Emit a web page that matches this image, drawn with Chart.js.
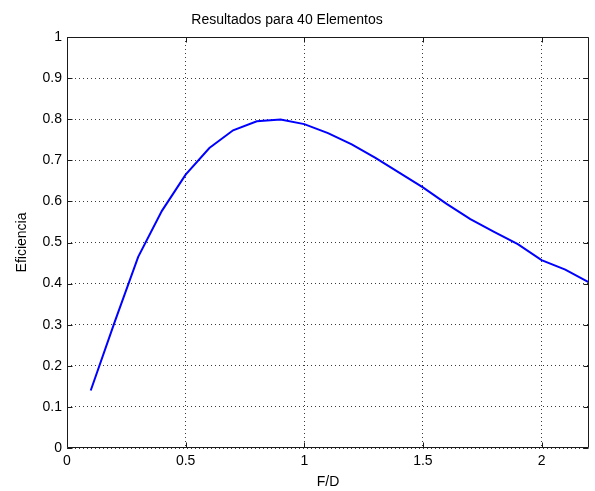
<!DOCTYPE html>
<html>
<head>
<meta charset="utf-8">
<script src="https://cdn.jsdelivr.net/npm/chart.js@4/dist/chart.umd.min.js"></script>
<style>
  html, body { margin: 0; padding: 0; background: #ffffff; }
  #wrap { width: 595px; height: 491px; }
</style>
</head>
<body>
<div id="wrap"><canvas id="chart" width="595" height="491"></canvas></div>
<script>
// F/D ratio samples and the resulting aperture efficiency
const fdRatio    = [0.1, 0.2, 0.3, 0.4, 0.5, 0.6, 0.7, 0.8, 0.9, 1.0, 1.1,
                    1.2, 1.3, 1.4, 1.5, 1.6, 1.7, 1.8, 1.9, 2.0, 2.1, 2.2];
const efficiency = [0.140, 0.305, 0.465, 0.577, 0.665, 0.730, 0.773, 0.795, 0.799, 0.788, 0.766,
                    0.739, 0.706, 0.670, 0.634, 0.594, 0.557, 0.526, 0.496, 0.457, 0.434, 0.403];

// Axis tick values
const xTicks = [0, 0.5, 1, 1.5, 2];
const yTicks = [0, 0.1, 0.2, 0.3, 0.4, 0.5, 0.6, 0.7, 0.8, 0.9, 1];

const chartTitle = 'Resultados para 40 Elementos';

const FONT = "'Liberation Sans', Arial, Helvetica, sans-serif";
const FONT_SIZE = 14;
const TICK_LEN = 5;

// Draws the boxed frame with inward tick marks on all four sides, plus the title
const framePlugin = {
  id: 'frame',
  afterDatasetsDraw(chart) {
    const { ctx, chartArea: a, scales } = chart;
    const L = Math.round(a.left) + 0.5, R = Math.round(a.right) - 0.5;
    const T = Math.round(a.top) + 0.5, B = Math.round(a.bottom) - 0.5;
    ctx.save();
    ctx.strokeStyle = '#1a1a1a';
    ctx.lineWidth = 1;
    ctx.beginPath();
    ctx.rect(L, T, R - L, B - T);
    xTicks.forEach(v => {
      const x = Math.round(scales.x.getPixelForValue(v)) + 0.5;
      ctx.moveTo(x, B); ctx.lineTo(x, B - TICK_LEN);
      ctx.moveTo(x, T); ctx.lineTo(x, T + TICK_LEN);
    });
    yTicks.forEach(v => {
      const y = Math.round(scales.y.getPixelForValue(v)) + 0.5;
      ctx.moveTo(L, y); ctx.lineTo(L + TICK_LEN, y);
      ctx.moveTo(R, y); ctx.lineTo(R - TICK_LEN, y);
    });
    ctx.stroke();

    // title above the axes box
    ctx.fillStyle = '#000000';
    ctx.font = FONT_SIZE + 'px ' + FONT;
    ctx.textAlign = 'center';
    ctx.textBaseline = 'alphabetic';
    ctx.fillText(chartTitle, 287, 24);
    ctx.restore();
  }
};

const fmt = v => String(Math.round(v * 10) / 10);

new Chart(document.getElementById('chart'), {
  type: 'scatter',
  data: {
    datasets: [{
      data: fdRatio.map((x, i) => ({ x, y: efficiency[i] })),
      showLine: true,
      borderColor: '#0000ff',
      backgroundColor: '#0000ff',
      borderWidth: 2,
      pointRadius: 0,
      tension: 0
    }]
  },
  options: {
    responsive: false,
    devicePixelRatio: 1,
    animation: false,
    layout: { padding: { left: 0, right: 6, top: 37, bottom: 0 } },
    plugins: {
      legend: { display: false },
      tooltip: { enabled: false },
      title: { display: false }
    },
    scales: {
      x: {
        type: 'linear',
        min: 0,
        max: 2.2,
        afterBuildTicks: s => { s.ticks = xTicks.map(value => ({ value })); },
        afterFit: s => { s.height = 43; },
        ticks: {
          color: '#000000',
          font: { family: FONT, size: FONT_SIZE },
          padding: 5,
          maxRotation: 0,
          callback: v => fmt(v)
        },
        grid: { color: '#3a3a3a', drawTicks: false, lineWidth: 1 },
        border: { display: false, dash: [1, 3] },
        title: {
          display: true,
          text: 'F/D',
          color: '#000000',
          font: { family: FONT, size: FONT_SIZE },
          padding: { top: 0, bottom: 0 }
        }
      },
      y: {
        type: 'linear',
        min: 0,
        max: 1,
        afterBuildTicks: s => { s.ticks = yTicks.map(value => ({ value })); },
        afterFit: s => { s.width = 67; },
        ticks: {
          color: '#000000',
          font: { family: FONT, size: FONT_SIZE },
          padding: 5,
          callback: v => fmt(v)
        },
        grid: { color: '#3a3a3a', drawTicks: false, lineWidth: 1 },
        border: { display: false, dash: [1, 3] },
        title: {
          display: true,
          text: 'Eficiencia',
          color: '#000000',
          font: { family: FONT, size: FONT_SIZE },
          padding: { top: 14, bottom: 0 }
        }
      }
    }
  },
  plugins: [framePlugin]
});
</script>
</body>
</html>
